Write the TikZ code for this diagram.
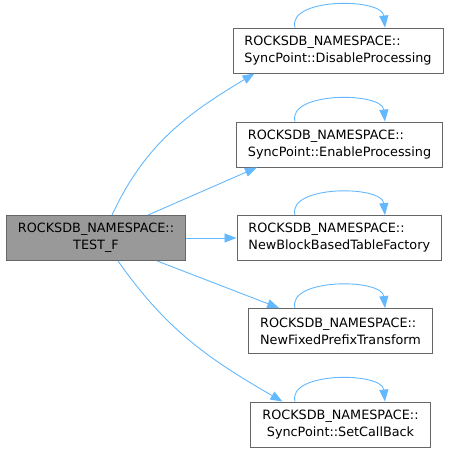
\documentclass[tikz,border=0pt]{standalone}
\usepackage{fontspec}
\setmainfont{DejaVu Sans}
\usepackage{tikz}
\usetikzlibrary{arrows.meta}
\definecolor{edgeblue}{HTML}{63B8FF}
\definecolor{boxgray}{HTML}{666666}
\definecolor{fillgray}{HTML}{999999}

\begin{document}
\begin{tikzpicture}[x=1pt, y=1pt, >={Triangle[length=12pt, width=9pt]},
  fn/.style={draw=boxgray, fill=white, line width=0.9pt, align=left,
    inner xsep=11.5pt, minimum height=45pt, font=\fontsize{12.8}{17}\selectfont},
  call/.style={->, edgeblue, line width=0.9pt}]
  \useasboundingbox (0,0) rectangle (452,453);
  \coordinate (lpl) at (295,0);
  \coordinate (lpr) at (385,0);

  \node[fn, fill=fillgray, align=center] (main) at (96,215) {ROCKSDB\_NAMESPACE::\\TEST\_F};
  \node[fn] (n1) at (338,402.5) {ROCKSDB\_NAMESPACE::\\SyncPoint::DisableProcessing};
  \node[fn] (n2) at (339.5,308.5) {ROCKSDB\_NAMESPACE::\\SyncPoint::EnableProcessing};
  \node[fn] (n3) at (339.3,215) {ROCKSDB\_NAMESPACE::\\NewBlockBasedTableFactory};
  \node[fn] (n4) at (340.5,122) {ROCKSDB\_NAMESPACE::\\NewFixedPrefixTransform};
  \node[fn, align=center] (n5) at (340.5,28.5) {ROCKSDB\_NAMESPACE::\\SyncPoint::SetCallBack};

  % calls from TEST_F
  \draw[call] ([xshift=16pt]main.north) to[out=65, in=211] ([xshift=22pt]n1.south west);
  \draw[call] ([xshift=52pt]main.north) -- ([xshift=21pt]n2.south west);
  \draw[call] (main.east) -- (n3.west);
  \draw[call] ([xshift=61pt]main.south) -- ([xshift=31pt]n4.north west);
  \draw[call] ([xshift=22pt]main.south) to[out=-55, in=150] ([xshift=32pt]n5.north west);
  % self calls
  \foreach \n in {n1,n2,n3,n4,n5}
    \draw[call] (\n.north -| lpl) .. controls +(-8,30) and +(-3,30) .. (\n.north -| lpr);
\end{tikzpicture}
\end{document}
